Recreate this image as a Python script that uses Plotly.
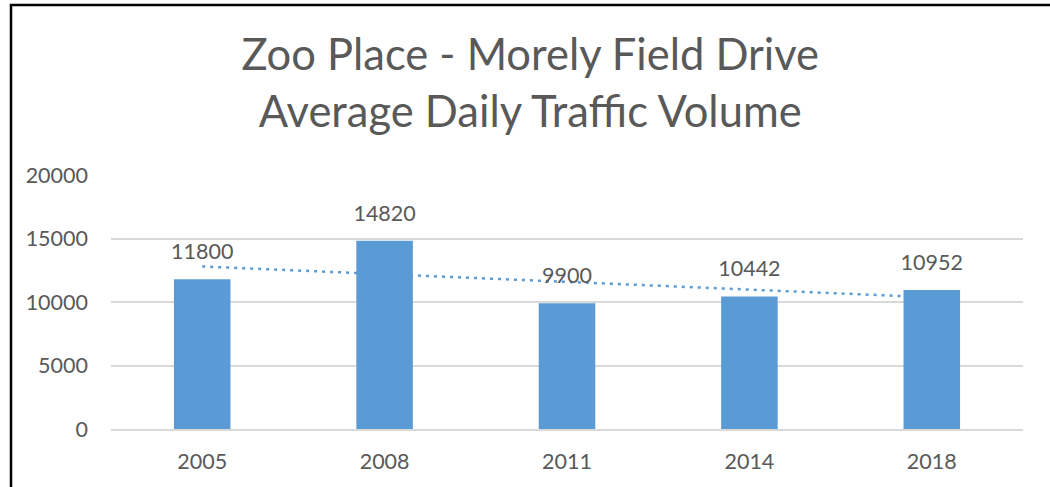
import numpy as np
import plotly.graph_objects as go

years = ["2005", "2008", "2011", "2014", "2018"]
volumes = [11800, 14820, 9900, 10442, 10952]
y_ticks = [0, 5000, 10000, 15000, 20000]

title_lines = ["Zoo Place - Morely Field Drive", "Average Daily Traffic Volume"]

BAR_COLOR = "#5B9BD5"
TEXT_COLOR = "#595959"
GRID_COLOR = "#D9D9D9"
FONT = "Lato, Carlito, Calibri, sans-serif"

# linear trendline (least squares over category index)
idx = np.arange(1, len(volumes) + 1)
slope, intercept = np.polyfit(idx, volumes, 1)
trend = slope * idx + intercept

fig = go.Figure()

# trendline on the main axes (drawn beneath the bars)
fig.add_trace(go.Scatter(
    x=years, y=trend, mode="lines",
    line=dict(color=BAR_COLOR, width=2.5, dash="3px,5px"),
    hoverinfo="skip", showlegend=False,
    xaxis="x", yaxis="y",
))

# bars on overlaying axes so they sit on top of the trendline
fig.add_trace(go.Bar(
    x=years, y=volumes, width=0.31,
    marker=dict(color=BAR_COLOR, line=dict(width=0)),
    showlegend=False, hoverinfo="x+y",
    xaxis="x2", yaxis="y2",
))

# data labels (invisible markers push the text up off the bar tops)
fig.add_trace(go.Scatter(
    x=years, y=volumes, mode="markers+text",
    text=[str(v) for v in volumes], textposition="top center",
    marker=dict(size=22, opacity=0),
    textfont=dict(family=FONT, size=21.5, color=TEXT_COLOR),
    hoverinfo="skip", showlegend=False, cliponaxis=False,
    xaxis="x2", yaxis="y2",
))

axis_common = dict(range=[-0.5, 4.5], type="category", categoryorder="array",
                   categoryarray=years)

fig.update_layout(
    width=1050, height=487,
    margin=dict(l=111, r=27, t=175, b=58, pad=0),
    paper_bgcolor="white", plot_bgcolor="white",
    title=dict(
        text="<br>".join(title_lines),
        x=0.505, xanchor="center", y=1 - 70 / 487, yanchor="top",
        font=dict(family=FONT, size=43.5, color=TEXT_COLOR),
    ),
    xaxis=dict(**axis_common, showgrid=False, showline=True, linecolor=GRID_COLOR,
               linewidth=2, ticks="", zeroline=False,
               tickfont=dict(family=FONT, size=21.5, color=TEXT_COLOR),
               ticklabelstandoff=12),
    xaxis2=dict(**axis_common, overlaying="x", visible=False),
    yaxis=dict(range=[0, 20000], tickvals=y_ticks, ticktext=[str(t) for t in y_ticks],
               showgrid=True, gridcolor=GRID_COLOR, gridwidth=2,
               zeroline=False, showline=False, ticks="",
               tickfont=dict(family=FONT, size=21.5, color=TEXT_COLOR),
               ticklabelstandoff=22),
    yaxis2=dict(range=[0, 20000], overlaying="y", visible=False),
    font=dict(family=FONT, color=TEXT_COLOR),
    shapes=[dict(type="rect", xref="paper", yref="paper",
                 x0=(11 - 111) / 912, x1=1.2, y0=-0.5, y1=(429 - 5) / 254,
                 line=dict(color="black", width=2.5), layer="above")],
)

fig.write_html("out.html", config={"displayModeBar": False},
               post_script="document.body.style.margin='0';")
